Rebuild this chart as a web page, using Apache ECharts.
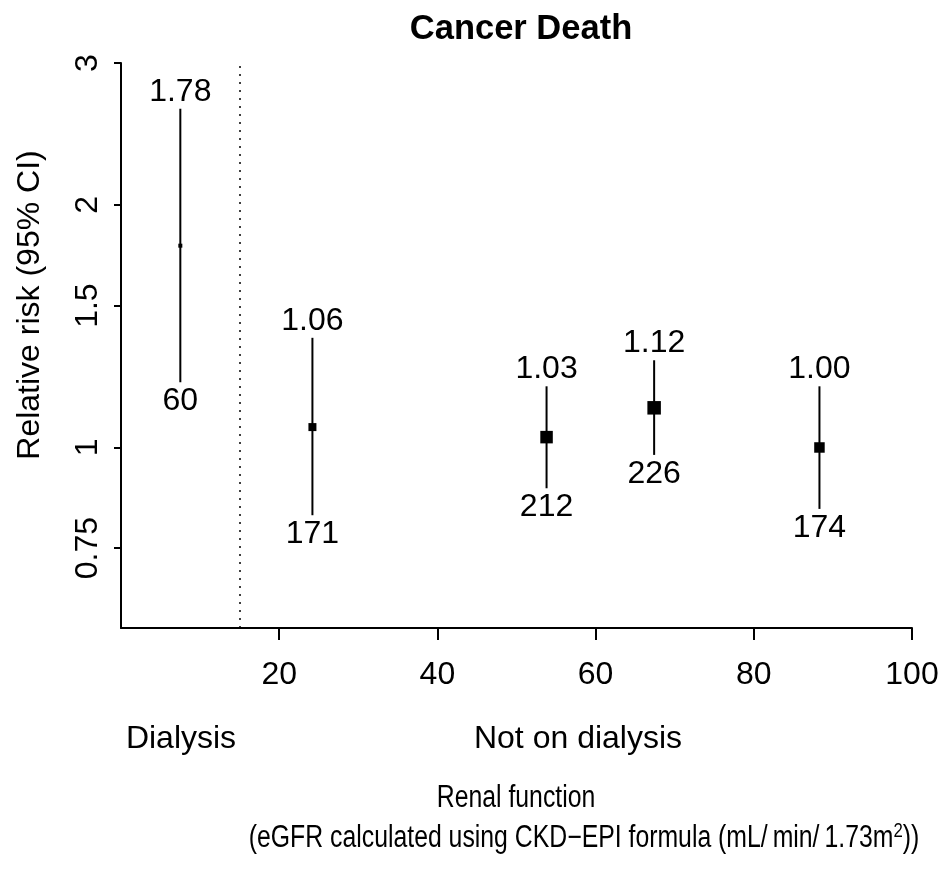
<!DOCTYPE html>
<html><head><meta charset="utf-8">
<script src="https://cdn.jsdelivr.net/npm/echarts@6/dist/echarts.min.js"></script>
<style>html,body{margin:0;padding:0;background:#fff}#c{width:952px;height:875px}</style>
</head><body><div id="c"></div>
<script>
// ---- data ----
const eGFR      = [7.5, 24.2, 53.8, 67.4, 88.3];
const relRisk   = [1.78, 1.06, 1.03, 1.12, 1.00];
const ciLower   = [1.205, 0.824, 0.890, 0.979, 0.839];
const ciUpper   = [2.632, 1.368, 1.191, 1.283, 1.191];
const deaths    = [60, 171, 212, 226, 174];
const squareSize = [4, 8, 12.5, 13.5, 10.5];
const yTicks      = [0.75, 1, 1.5, 2, 3];
const yTickLabels = ['0.75', '1', '1.5', '2', '3'];
const xTicks      = [20, 40, 60, 80, 100];
const xRange = [0, 100];
const yRange = [0.597, 3];
const dialysisCutoff = 15;
const groupNames = ['Dialysis', 'Not on dialysis'];

const FONT = 'Liberation Sans, Arial, Helvetica, sans-serif';
const FS = 32;
const ln = Math.log;

const chart = echarts.init(document.getElementById('c'), null, {renderer: 'canvas'});

const ciData = eGFR.map((x, i) => [x, ln(ciLower[i]), ln(ciUpper[i]), relRisk[i], deaths[i]]);
const ptData = eGFR.map((x, i) => ({value: [x, ln(relRisk[i])], symbolSize: squareSize[i]}));

chart.setOption({
  animation: false,
  backgroundColor: '#fff',
  title: {
    text: 'Cancer Death', left: 516, top: 7, textAlign: 'center',
    textStyle: {fontFamily: FONT, fontSize: 34.5, fontWeight: 'bold', color: '#000'}
  },
  grid: {left: 121, right: 40, top: 63, bottom: 247},
  xAxis: {
    type: 'value', min: xRange[0], max: xRange[1],
    splitLine: {show: false},
    axisLine: {show: true, onZero: false, lineStyle: {color: '#000', width: 2}},
    axisTick: {show: true, customValues: xTicks, length: 12, lineStyle: {color: '#000', width: 2}},
    axisLabel: {customValues: xTicks, margin: 31, fontFamily: FONT, fontSize: FS, color: '#000'}
  },
  yAxis: {
    type: 'value', min: ln(yRange[0]), max: ln(yRange[1]),
    splitLine: {show: false},
    axisLine: {show: true, onZero: false, lineStyle: {color: '#000', width: 2}},
    axisTick: {show: true, customValues: yTicks.map(ln), length: 7, lineStyle: {color: '#000', width: 2}},
    axisLabel: {
      customValues: yTicks.map(ln), rotate: 90, margin: 17,
      fontFamily: FONT, fontSize: FS, color: '#000',
      formatter: v => {
        let best = 0;
        yTicks.forEach((t, i) => { if (Math.abs(ln(t) - v) < Math.abs(ln(yTicks[best]) - v)) best = i; });
        return yTickLabels[best];
      }
    }
  },
  series: [
    {
      type: 'custom',
      data: ciData,
      z: 2,
      renderItem: (params, api) => {
        const x = api.value(0);
        const pLo = api.coord([x, api.value(1)]);
        const pHi = api.coord([x, api.value(2)]);
        return {
          type: 'group',
          children: [
            {type: 'line', shape: {x1: pLo[0], y1: pLo[1], x2: pHi[0], y2: pHi[1]},
             style: {stroke: '#000', lineWidth: 2}},
            {type: 'text', x: pHi[0], y: pHi[1] - 17,
             style: {text: api.value(3).toFixed(2), fontFamily: FONT, fontSize: FS, fill: '#000',
                     align: 'center', verticalAlign: 'middle'}},
            {type: 'text', x: pLo[0], y: pLo[1] + 19,
             style: {text: String(api.value(4)), fontFamily: FONT, fontSize: FS, fill: '#000',
                     align: 'center', verticalAlign: 'middle'}}
          ]
        };
      }
    },
    {
      type: 'scatter',
      data: ptData,
      symbol: 'rect',
      z: 3,
      itemStyle: {color: '#000', opacity: 1},
      emphasis: {disabled: true},
      markLine: {
        silent: true, symbol: ['none', 'none'],
        label: {show: false},
        lineStyle: {color: '#000', width: 1.5, type: [2, 6], opacity: 1},
        data: [{xAxis: dialysisCutoff}]
      }
    }
  ],
  graphic: [
    {type: 'text', x: 30, y: 305, rotation: Math.PI / 2,
     style: {text: 'Relative risk (95% CI)', fontFamily: FONT, fontSize: FS, fill: '#000',
             align: 'center', verticalAlign: 'middle'}},
    {type: 'text', x: 181, y: 739,
     style: {text: groupNames[0], fontFamily: FONT, fontSize: FS, fill: '#000', align: 'center', verticalAlign: 'middle'}},
    {type: 'text', x: 578, y: 739,
     style: {text: groupNames[1], fontFamily: FONT, fontSize: FS, fill: '#000', align: 'center', verticalAlign: 'middle'}},
    {type: 'text', x: 516, y: 798, scaleX: 0.8,
     style: {text: 'Renal function', fontFamily: FONT, fontSize: 31, fill: '#000', align: 'center', verticalAlign: 'middle'}},
    {type: 'text', x: 584, y: 838, scaleX: 0.8,
     style: {
       text: '{a|(eGFR calculated using CKD\u2212EPI formula (mL/\u2009min/\u20091.73m}{s|2}{a|))}',
       align: 'center', verticalAlign: 'middle',
       rich: {
         a: {fontFamily: FONT, fontSize: 31, fill: '#000', color: '#000'},
         s: {fontFamily: FONT, fontSize: 21, fill: '#000', color: '#000', verticalAlign: 'top', padding: [0, 0, 14, 0]}
       }
     }}
  ]
});
</script>
</body></html>
